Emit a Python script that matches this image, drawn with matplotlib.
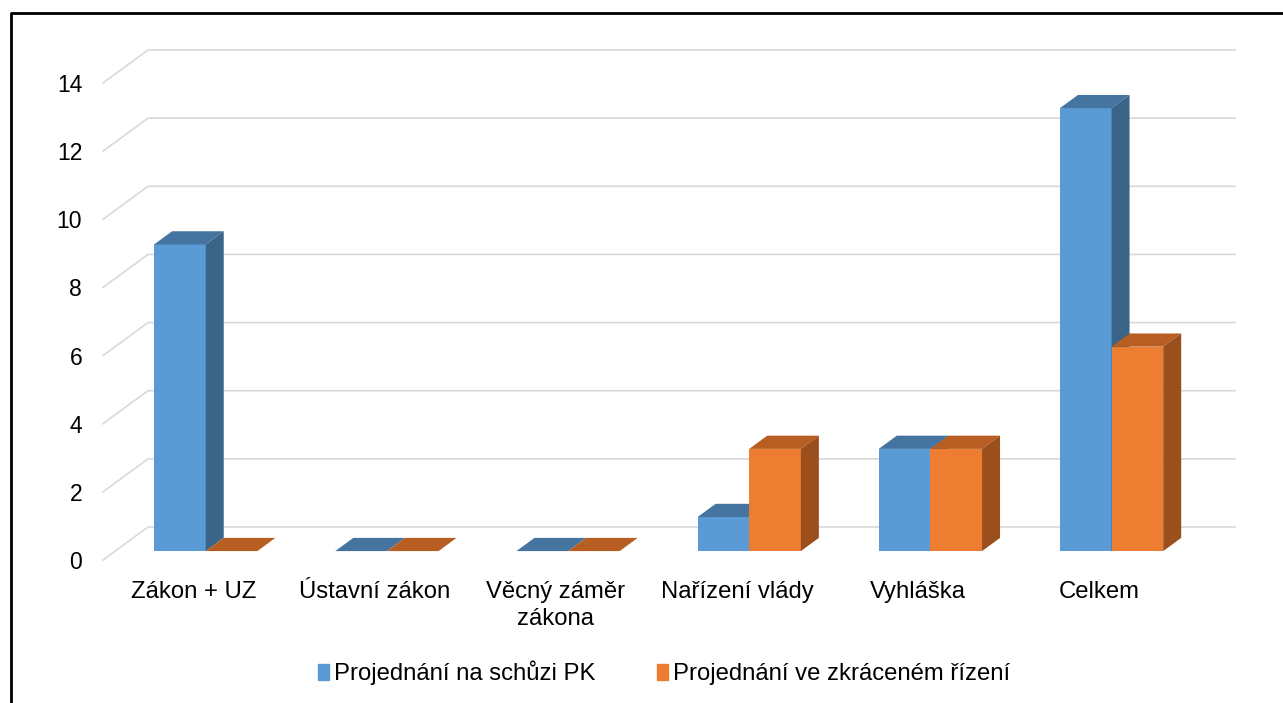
import numpy as np
import matplotlib
matplotlib.use("Agg")
import matplotlib.pyplot as plt
from matplotlib.patches import Polygon, Patch
from matplotlib.lines import Line2D

plt.rcParams['font.family'] = ['Liberation Sans', 'DejaVu Sans']

# ---data-------------------------------------------------------------
categories = ["Zákon + UZ", "Ústavní zákon", "Věcný záměr\nzákona",
              "Nařízení vlády", "Vyhláška", "Celkem"]
schuze_pk = [9, 0, 0, 1, 3, 13]
zkracene = [0, 0, 0, 3, 3, 6]
series_names = ["Projednání na schůzi PK", "Projednání ve zkráceném řízení"]
yticks = [0, 2, 4, 6, 8, 10, 12, 14]

# colours: front, top, side
blue = ("#5B9BD5", "#44749F", "#3A6589")
orange = ("#ED7D31", "#B85E22", "#9A4F1C")

# ---fake 3d geometry (depth vector in data units)-------------------
W, H = 1283, 703
ddx = 45 / 181.2      # full depth, x shift (category units)
ddy = 33 / 34.07      # full depth, y shift (value units)
f0, f1 = 0.27, 0.67   # front / back of bars as fraction of depth
bw = 0.285

fig = plt.figure(figsize=(W / 100, H / 100), dpi=100)
ax = fig.add_axes([103 / W, (H - 560) / H, 1087 / W, 477 / H])
ax.set_xlim(-0.5, 5.5)
ax.set_ylim(0, 14)
for s in ax.spines.values():
    s.set_visible(False)

# gridlines: diagonal on the side + horizontal on the back wall
grid_col = "#D9D9D9"
for v in yticks:
    ax.plot([-0.5, -0.5 + ddx, 5.5 + ddx], [v, v + ddy, v + ddy],
            color=grid_col, lw=1.2, clip_on=False, zorder=1)


def draw_bar(x, v, cols):
    x0, x1 = x - bw / 2, x + bw / 2
    ax.bar(x + f0 * ddx, v, width=bw, bottom=f0 * ddy, color=cols[0],
           zorder=3, clip_on=False)
    top = [(x0 + f0 * ddx, v + f0 * ddy), (x1 + f0 * ddx, v + f0 * ddy),
           (x1 + f1 * ddx, v + f1 * ddy), (x0 + f1 * ddx, v + f1 * ddy)]
    ax.add_patch(Polygon(top, closed=True, fc=cols[1], ec="none",
                         zorder=3, clip_on=False))
    if v > 0:
        side = [(x1 + f0 * ddx, f0 * ddy), (x1 + f0 * ddx, v + f0 * ddy),
                (x1 + f1 * ddx, v + f1 * ddy), (x1 + f1 * ddx, f1 * ddy)]
        ax.add_patch(Polygon(side, closed=True, fc=cols[2], ec="none",
                             zorder=3, clip_on=False))


xs = np.arange(len(categories))
for i in xs:
    draw_bar(i - bw / 2, schuze_pk[i], blue)
    draw_bar(i + bw / 2, zkracene[i], orange)

ax.set_yticks(yticks)
ax.set_yticklabels([str(t) for t in yticks], fontsize=16.5)
ax.set_xticks(xs)
ax.set_xticklabels(categories, fontsize=17.2, linespacing=1.28)
ax.tick_params(axis="y", length=0, pad=15)
ax.tick_params(axis="x", length=0, pad=15)

handles = [Patch(color=blue[0]), Patch(color=orange[0])]
fig.legend(handles, series_names, loc="center", ncol=2, frameon=False,
           bbox_to_anchor=(664 / W, (H - 673) / H), fontsize=17.2,
           handlelength=0.45, handleheight=0.65, handletextpad=0.2,
           columnspacing=2.6)

# outer frame (left and top edge visible)
fig.add_artist(Line2D([10.5 / W, 10.5 / W, 1], [0, (H - 13) / H, (H - 13) / H],
                      transform=fig.transFigure, color="black", lw=2))

fig.savefig("out.png", dpi=100)
